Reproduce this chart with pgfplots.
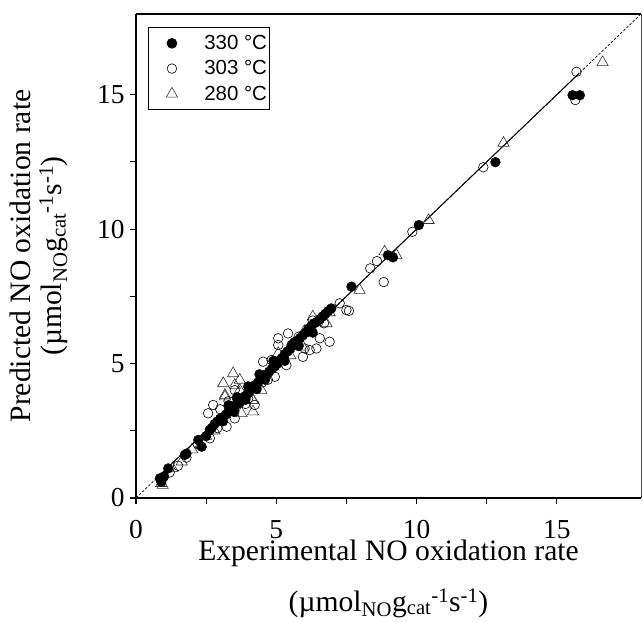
\documentclass[border=0pt]{standalone}
\usepackage{fontspec}
\setmainfont{Liberation Serif}
\newfontfamily\arial{Liberation Sans}
\usepackage{pgfplots}
\pgfplotsset{compat=1.18}
\begin{document}
\begin{tikzpicture}
\begin{axis}[
  at={(0,0)}, anchor=south west,
  width=505bp, height=484bp, scale only axis,
  xmin=0, xmax=18, ymin=0, ymax=18,
  xtick={0,5,10,15}, ytick={0,5,10,15},
  minor tick num=1,
  tick align=outside, xtick pos=bottom, ytick pos=left,
  major tick length=6bp, minor tick length=6bp,
  every tick/.style={black, line width=1.2bp},
  axis line style={draw=none},
  ticklabel style={font=\fontsize{27.5}{30}\selectfont},
  xticklabel style={inner ysep=0bp, yshift=-16bp},
  yticklabel style={xshift=-2bp},
  /pgf/number format/assume math mode=true,
  xlabel={Experimental NO oxidation rate\\(µmol\textsubscript{NO}g\textsubscript{cat}\textsuperscript{-1}s\textsuperscript{-1})},
  ylabel={Predicted NO oxidation rate\\[-10bp](µmol\textsubscript{NO}g\textsubscript{cat}\textsuperscript{-1}s\textsuperscript{-1})},
  xlabel style={font=\fontsize{29.7}{51}\selectfont, align=center, inner ysep=0bp, yshift=-1bp},
  ylabel style={font=\fontsize{29.7}{42}\selectfont, align=center, yshift=22bp},
  legend style={at={(axis description cs:0.024,0.973)}, anchor=north west,
    draw=black, line width=0.8bp, font=\arial\fontsize{20.5}{24}\selectfont,
    inner xsep=0bp, inner ysep=6bp, row sep=5.5bp,
    /tikz/every odd column/.append style={column sep=23bp}},
  legend image code/.code={\path (0bp,0bp) (30bp,0bp); \draw[#1] plot coordinates {(23bp,0bp)};},
  legend cell align=left,
  reverse legend,
  clip=false,
]
% diagonal y = x (dashed)
\addplot[forget plot, black, line width=0.7bp, dash pattern=on 2.5bp off 1.8bp] coordinates {(0,0) (18,18)};
% fit line (solid)
\addplot[forget plot, black, line width=1bp] coordinates {(0.8,0.8) (15.8,15.8)};

% 280 C
\addplot[only marks, mark=triangle, mark size=6.5bp, mark options={black!80, line width=0.6bp}] coordinates {
(0.95,0.48) (0.9,0.55) (1.3,1.1) (1.63,1.35) (2.0,1.8) (2.3,2.0) (2.5,2.3) (2.8,2.5)
(3.11,4.26) (3.17,3.83) (3.52,4.2) (3.46,4.63) (3.70,4.39) (3.17,3.77) (3.7,4.01)
(4.47,4.01) (4.17,3.64) (3.76,3.15) (4.17,3.21) (4.16,3.64) (4.83,4.87) (5.07,5.38)
(5.5,5.3) (5.95,5.62) (6.0,6.2) (6.3,6.74) (6.79,6.49) (6.9,6.9) (7.97,7.73)
(8.86,9.16) (9.28,9.03) (10.43,10.33) (13.1,13.2) (16.63,16.2)
};
\addlegendentry{280 °C}
% 303 C
\addplot[only marks, mark=o, mark size=4.8bp, mark options={black, line width=0.6bp}] coordinates {
(0.95,0.75) (1.2,0.95) (1.5,1.2) (1.8,1.5) (2.2,2.0) (2.63,2.22) (2.9,2.6)
(2.57,3.15) (2.75,3.46) (3.0,3.3) (3.3,3.6) (3.23,2.65) (3.52,2.96) (3.52,4.01)
(3.9,3.5) (4.0,3.7) (4.23,3.46) (4.5,4.3) (4.7,4.4) (4.53,5.07) (4.83,5.13)
(4.95,4.51) (5.36,4.94) (5.07,5.69) (5.07,5.94) (5.42,6.12) (5.8,6.0) (5.95,5.25)
(6.01,5.56) (6.19,5.5) (6.43,5.56) (6.55,5.94) (6.9,5.81) (6.3,6.6) (6.7,6.5)
(7.26,7.24) (7.5,6.99) (7.59,6.96) (8.35,8.54) (8.59,8.81) (8.83,8.03) (9.85,9.9)
(12.38,12.3) (15.66,14.8) (15.7,15.85)
};
\addlegendentry{303 °C}
% 330 C
\addplot[only marks, mark=*, mark size=4.9bp, mark options={black, fill=black}] coordinates {
(0.85,0.73) (0.9,0.6) (1.0,0.8) (1.15,1.10) (1.74,1.60) (1.8,1.65) (2.22,2.16) (2.34,1.91)
(2.5,2.3) (2.63,2.53) (2.7,2.6) (2.8,2.75) (2.9,2.85) (3.0,2.95) (3.1,3.0) (3.2,3.1)
(3.3,3.2) (3.4,3.3) (3.5,3.35) (3.55,3.45) (3.6,3.5) (3.7,3.55) (3.8,3.7) (3.9,3.8)
(4.0,3.9) (4.06,4.01) (4.15,4.1) (4.25,4.2) (4.35,4.3) (4.45,4.45) (4.55,4.55)
(4.65,4.6) (4.75,4.7) (4.85,4.8) (4.95,4.9) (5.05,5.0) (5.2,5.2) (5.3,5.35) (5.4,5.45)
(5.5,5.55) (5.55,5.7) (5.65,5.8) (5.75,5.85) (5.85,5.95) (5.95,6.05) (6.05,6.15)
(6.15,6.3) (6.25,6.4) (6.35,6.5) (6.45,6.55) (6.55,6.65) (6.65,6.75) (6.75,6.85)
(6.85,6.95) (6.96,7.05) (3.3,3.45) (3.6,3.75) (4.0,4.15) (4.4,4.6) (4.9,5.1)
(3.1,2.85) (3.5,3.2) (3.9,3.65) (4.3,4.05) (4.6,4.4) (5.3,5.1) (5.8,5.65) (6.3,6.15)
(7.68,7.86) (8.98,9.03) (9.16,8.95) (10.08,10.15) (12.81,12.49) (15.56,14.98) (15.82,14.98)
};
\addlegendentry{330 °C}
\end{axis}
% axis frame
\draw[line width=2bp] (0,484bp) -- (0,0) -- (505bp,0);
\draw[line width=2bp] (0,484bp) -- (505bp,484bp);
\draw[line width=0.6bp, black!70] (505bp,0) -- (505bp,484bp);
\pgfresetboundingbox
\path (-136bp,-124bp) rectangle (507bp,498bp);
\end{tikzpicture}
\end{document}
